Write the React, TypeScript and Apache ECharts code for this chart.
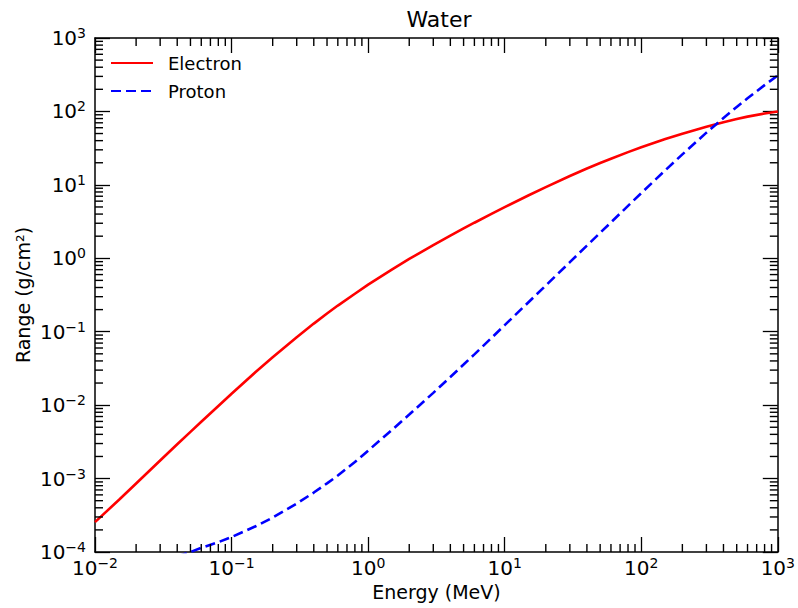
import React, { useEffect, useRef } from "react";
import * as echarts from "echarts";

const electronEnergy = [0.01, 0.015, 0.02, 0.03, 0.04, 0.05, 0.06, 0.08, 0.1, 0.15, 0.2, 0.3, 0.4, 0.5, 0.6, 0.8, 1, 1.5, 2, 3, 4, 5, 6, 8, 10, 15, 20, 30, 40, 50, 60, 80, 100, 150, 200, 300, 400, 500, 600, 800, 1000];
const electronRange = [2.55e-4, 5.15e-4, 8.57e-4, 1.76e-3, 2.93e-3, 4.32e-3, 5.94e-3, 9.74e-3, 1.43e-2, 2.82e-2, 4.49e-2, 8.42e-2, 0.129, 0.177, 0.227, 0.329, 0.437, 0.705, 0.979, 1.51, 2.04, 2.55, 3.05, 4.02, 4.98, 7.22, 9.32, 13.2, 16.7, 19.8, 22.7, 27.9, 32.5, 42.1, 49.8, 61.9, 71.2, 78.6, 85.0, 93.5, 100];

const protonEnergy = [0.04, 0.05, 0.06, 0.08, 0.1, 0.15, 0.2, 0.3, 0.4, 0.5, 0.6, 0.8, 1, 1.5, 2, 3, 4, 5, 6, 8, 10, 15, 20, 30, 40, 50, 60, 80, 100, 150, 200, 300, 400, 500, 600, 800, 1000];
const protonRange = [8.7e-5, 1.0e-4, 1.14e-4, 1.36e-4, 1.6e-4, 2.24e-4, 2.94e-4, 4.56e-4, 6.45e-4, 8.6e-4, 1.1e-3, 1.68e-3, 2.4e-3, 4.63e-3, 7.44e-3, 1.47e-2, 2.42e-2, 3.57e-2, 4.92e-2, 8.22e-2, 0.123, 0.254, 0.426, 0.885, 1.49, 2.22, 3.08, 5.18, 7.72, 15.8, 26.0, 51.4, 81.5, 115, 151, 228, 310];

const xDecades = [-2, -1, 0, 1, 2];
const yDecades = [-4, -3, -2, -1, 0, 1, 2];
const minorMultipliers = [2, 3, 4, 5, 6, 7, 8, 9];

const X_MIN = 0.01;
const X_MAX = 1000;
const Y_MIN = 1e-4;
const Y_MAX = 1000;

const FONT = "DejaVu Sans";
const MINOR_LEN = 8;

function minorValues(decades: number[]) {
  const out: number[] = [];
  decades.forEach((d) => minorMultipliers.forEach((m) => out.push(m * Math.pow(10, d))));
  return out;
}

function powLabel(v: number) {
  const e = Math.round(Math.log10(v));
  return `{b|10}{s|${e < 0 ? "\u2212" : ""}${Math.abs(e)}}`;
}

const rich = {
  b: { fontSize: 20, fontFamily: FONT, color: "#000", lineHeight: 24 },
  s: { fontSize: 14, fontFamily: FONT, color: "#000", verticalAlign: "top" as const, lineHeight: 14 },
};

export default function App() {
  const ref = useRef<HTMLDivElement>(null);
  useEffect(() => {
    if (!ref.current) return;
    const chart = echarts.init(ref.current, undefined, { renderer: "svg" });
    const xMinor = minorValues(xDecades);
    const yMinor = minorValues(yDecades);
    const lineAxis = { show: true, lineStyle: { color: "#000", width: 1.5 } };
    const majorTick = { show: true, inside: true, length: 15, lineStyle: { color: "#000", width: 1.3 } };
    const mkX = (position: "bottom" | "top", labels: boolean, extra: any = {}) => ({
      type: "log",
      logBase: 10,
      min: X_MIN,
      max: X_MAX,
      position,
      axisLine: lineAxis,
      axisTick: majorTick,
      axisLabel: labels
        ? { show: true, formatter: powLabel, rich, margin: 4, showMinLabel: true, showMaxLabel: true }
        : { show: false },
      splitLine: { show: false },
      ...extra,
    });
    const mkY = (position: "left" | "right", labels: boolean, extra: any = {}) => ({
      type: "log",
      logBase: 10,
      min: Y_MIN,
      max: Y_MAX,
      position,
      axisLine: lineAxis,
      axisTick: majorTick,
      axisLabel: labels
        ? { show: true, formatter: powLabel, rich, margin: 9, showMinLabel: true, showMaxLabel: true }
        : { show: false },
      splitLine: { show: false },
      ...extra,
    });

    const tickLine = (x1: number, y1: number, x2: number, y2: number) => ({
      type: "line",
      shape: { x1, y1, x2, y2 },
      style: { stroke: "#000", lineWidth: 1.4 },
      silent: true,
    });

    chart.setOption({
      animation: false,
      backgroundColor: "#fff",
      textStyle: { fontFamily: FONT },
      grid: { left: 95, right: 15, top: 38, bottom: 56, containLabel: false },
      graphic: [
        {
          type: "text",
          x: 439,
          y: 19,
          style: {
            text: "Water",
            fill: "#000",
            fontSize: 22,
            fontFamily: FONT,
            textAlign: "center",
            textVerticalAlign: "middle",
          },
        },
      ],
      legend: {
        orient: "vertical",
        left: 110,
        top: 54,
        padding: 0,
        itemWidth: 42,
        itemHeight: 14,
        itemGap: 10,
        itemStyle: { opacity: 0 },
        textStyle: { fontSize: 18, fontFamily: FONT, color: "#000", padding: [0, 0, 0, 10] },
        data: ["Electron", "Proton"],
      },
      xAxis: [
        mkX("bottom", true, {
          name: "Energy (MeV)",
          nameLocation: "middle",
          nameGap: 30,
          nameTextStyle: { fontSize: 19, fontFamily: FONT, color: "#000" },
        }),
        mkX("top", false),
      ],
      yAxis: [
        mkY("left", true, {
          name: "Range (g/cm\u00b2)",
          nameLocation: "middle",
          nameGap: 63,
          nameMoveOverlap: false,
          nameTextStyle: { fontSize: 19, fontFamily: FONT, color: "#000" },
        }),
        mkY("right", false),
      ],
      series: [
        {
          name: "Electron",
          type: "line",
          xAxisIndex: 0,
          yAxisIndex: 0,
          symbol: "none",
          color: "#ff0000",
          lineStyle: { color: "#ff0000", width: 2.6 },
          data: electronEnergy.map((e, i) => [e, electronRange[i]]),
          z: 3,
        },
        {
          name: "Proton",
          type: "line",
          xAxisIndex: 0,
          yAxisIndex: 0,
          symbol: "none",
          color: "#0000ff",
          lineStyle: { color: "#0000ff", width: 2.6, type: [10, 5] },
          data: protonEnergy.map((e, i) => [e, protonRange[i]]),
          z: 3,
        },
        {
          name: "xMinorTicks",
          type: "custom",
          xAxisIndex: 0,
          yAxisIndex: 0,
          clip: false,
          silent: true,
          z: 10,
          data: xMinor.map((v) => [v, Y_MIN]),
          renderItem: (params: any, api: any) => {
            const v = api.value(0);
            const b = api.coord([v, Y_MIN]);
            const t = api.coord([v, Y_MAX]);
            return {
              type: "group",
              children: [
                tickLine(b[0], b[1], b[0], b[1] - MINOR_LEN),
                tickLine(t[0], t[1], t[0], t[1] + MINOR_LEN),
              ],
            };
          },
        },
        {
          name: "yMinorTicks",
          type: "custom",
          xAxisIndex: 0,
          yAxisIndex: 0,
          clip: false,
          silent: true,
          z: 10,
          data: yMinor.map((v) => [X_MIN, v]),
          renderItem: (params: any, api: any) => {
            const v = api.value(1);
            const l = api.coord([X_MIN, v]);
            const r = api.coord([X_MAX, v]);
            return {
              type: "group",
              children: [
                tickLine(l[0], l[1], l[0] + MINOR_LEN, l[1]),
                tickLine(r[0], r[1], r[0] - MINOR_LEN, r[1]),
              ],
            };
          },
        },
      ],
    });

    return () => chart.dispose();
  }, []);
  return <div ref={ref} style={{ width: 798, height: 608, position: "absolute", left: 0, top: 0 }} />;
}
